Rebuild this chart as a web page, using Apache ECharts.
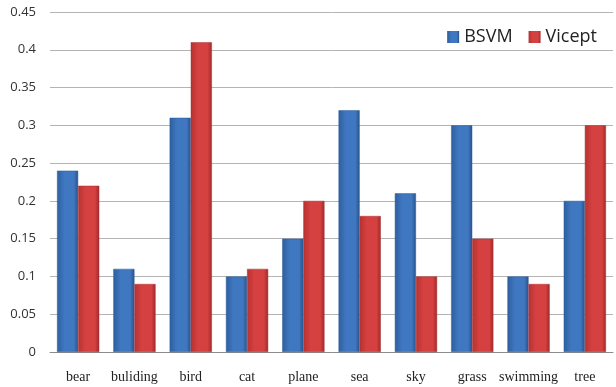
<!DOCTYPE html>
<html>
<head>
<meta charset="utf-8">
<script src="https://cdn.jsdelivr.net/npm/echarts@6/dist/echarts.min.js"></script>
<style>
  html, body { margin: 0; padding: 0; background: #fff; }
  #chart { width: 616px; height: 387px; }
</style>
</head>
<body>
<div id="chart"></div>
<script>
// Categories and per-method scores
const categories = ['bear', 'buliding', 'bird', 'cat', 'plane', 'sea', 'sky', 'grass', 'swimming', 'tree'];
const bsvmValues = [0.24, 0.11, 0.31, 0.10, 0.15, 0.32, 0.21, 0.30, 0.10, 0.20];
const viceptValues = [0.22, 0.09, 0.41, 0.11, 0.20, 0.18, 0.10, 0.15, 0.09, 0.30];
const seriesNames = ['BSVM', 'Vicept'];

function barGradient(edge, mid, dark) {
  return new echarts.graphic.LinearGradient(0, 0, 1, 0, [
    { offset: 0, color: edge },
    { offset: 0.35, color: mid },
    { offset: 0.8, color: mid },
    { offset: 1, color: dark }
  ]);
}

const chart = echarts.init(document.getElementById('chart'), null, { renderer: 'canvas' });
chart.setOption({
  animation: false,
  backgroundColor: '#ffffff',
  grid: { left: 50, right: 3, top: 12, bottom: 35 },
  legend: {
    top: 23,
    right: 14,
    itemWidth: 12,
    itemHeight: 12,
    itemGap: 16,
    itemStyle: { borderWidth: 0 },
    icon: 'rect',
    textStyle: { fontFamily: 'Open Sans', fontSize: 18, color: '#222' },
    data: seriesNames
  },
  xAxis: {
    type: 'category',
    data: categories,
    axisLine: { lineStyle: { color: '#8c8c8c', width: 1 } },
    axisTick: { show: false },
    axisLabel: {
      interval: 0,
      fontFamily: 'Liberation Serif',
      fontSize: 14,
      color: '#222',
      margin: 18
    }
  },
  yAxis: {
    type: 'value',
    min: 0,
    max: 0.45,
    interval: 0.05,
    axisLine: { show: false },
    axisTick: { show: false },
    splitLine: { lineStyle: { color: '#b4b4b4', width: 1 } },
    axisLabel: {
      fontFamily: 'Open Sans',
      fontSize: 13,
      color: '#333',
      margin: 14,
      formatter: v => String(parseFloat(v.toFixed(2)))
    }
  },
  series: [
    {
      name: seriesNames[0],
      type: 'bar',
      data: bsvmValues,
      barGap: '0%',
      barCategoryGap: '25%',
      itemStyle: {
        color: barGradient('#2d5f9f', '#3f77c0', '#27528a'),
        borderColor: '#2f5d98',
        borderWidth: 0.5
      }
    },
    {
      name: seriesNames[1],
      type: 'bar',
      data: viceptValues,
      barGap: '0%',
      barCategoryGap: '25%',
      itemStyle: {
        color: barGradient('#b83131', '#d54141', '#a02828'),
        borderColor: '#aa3030',
        borderWidth: 0.5
      }
    }
  ]
});
</script>
</body>
</html>
